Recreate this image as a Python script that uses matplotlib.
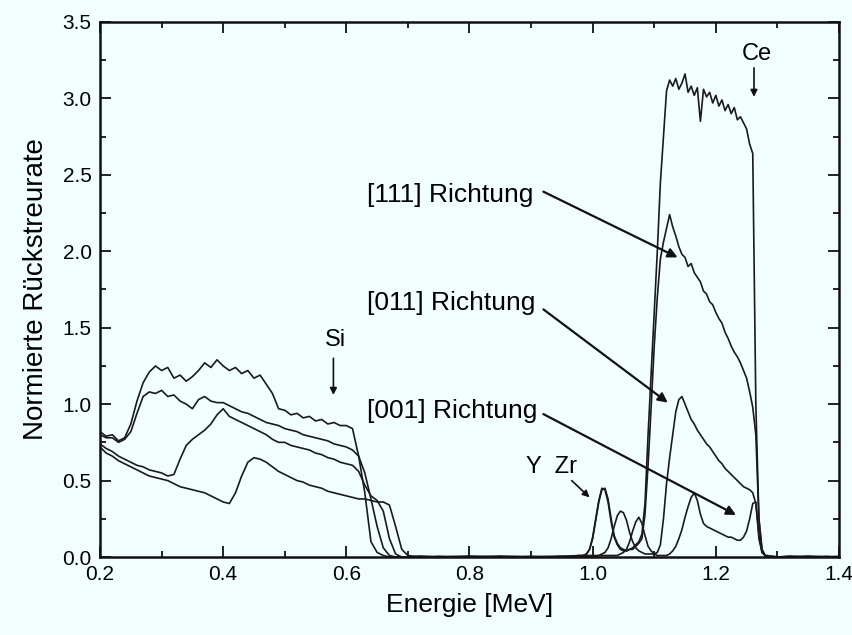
import matplotlib
matplotlib.use("Agg")
import matplotlib.pyplot as plt
import numpy as np
from matplotlib.ticker import MultipleLocator

plt.rcParams['font.family'] = ['Liberation Sans', 'DejaVu Sans']

# ---------------- data ----------------
e_low = [0.20, 0.21, 0.22, 0.23, 0.24, 0.25, 0.26, 0.27, 0.28, 0.29,
         0.30, 0.31, 0.32, 0.33, 0.34, 0.35, 0.36, 0.37, 0.38, 0.39,
         0.40, 0.41, 0.42, 0.43, 0.44, 0.45, 0.46, 0.47, 0.48, 0.49,
         0.50, 0.51, 0.52, 0.53, 0.54, 0.55, 0.56, 0.57, 0.58, 0.59,
         0.60, 0.61, 0.62, 0.63, 0.64, 0.65, 0.66, 0.67, 0.68, 0.69,
         0.70]
e_mid = [0.72, 0.75, 0.80, 0.85, 0.90, 0.95]
e_high = [0.980, 0.985, 0.990, 0.995, 1.000, 1.005, 1.010, 1.015, 1.020, 1.025,
          1.030, 1.035, 1.040, 1.045, 1.050, 1.055, 1.060, 1.065, 1.070, 1.075,
          1.080, 1.085, 1.090, 1.095, 1.100, 1.105, 1.110, 1.115, 1.120, 1.125,
          1.130, 1.135, 1.140, 1.145, 1.150, 1.155, 1.160, 1.165, 1.170, 1.175,
          1.180, 1.185, 1.190, 1.195, 1.200, 1.205, 1.210, 1.215, 1.220, 1.225,
          1.230, 1.235, 1.240, 1.245, 1.250, 1.255, 1.260, 1.265, 1.270, 1.275,
          1.280, 1.285, 1.290, 1.295, 1.300]
e_tail = [1.32, 1.35, 1.38, 1.40]

# random spectrum
random_low = [0.82, 0.79, 0.80, 0.76, 0.78, 0.87, 1.02, 1.14, 1.21, 1.25,
              1.22, 1.24, 1.17, 1.19, 1.15, 1.18, 1.22, 1.27, 1.24, 1.29,
              1.25, 1.22, 1.24, 1.20, 1.22, 1.17, 1.19, 1.13, 1.07, 0.97,
              0.96, 0.93, 0.94, 0.91, 0.92, 0.89, 0.90, 0.87, 0.88, 0.86,
              0.86, 0.84, 0.66, 0.42, 0.10, 0.03, 0.01, 0.0, 0.0, 0.0,
              0.0]
random_mid = [0.005, 0.0, 0.005, 0.0, 0.005, 0.0]
random_high = [0.01, 0.01, 0.02, 0.05, 0.12, 0.24, 0.36, 0.44, 0.45, 0.38,
               0.25, 0.14, 0.09, 0.06, 0.05, 0.04, 0.05, 0.06, 0.08, 0.10,
               0.15, 0.35, 0.80, 1.20, 1.60, 2.00, 2.45, 2.75, 3.05, 3.12,
               3.08, 3.13, 3.06, 3.10, 3.16, 3.04, 3.08, 3.02, 3.07, 2.85,
               3.06, 3.01, 3.04, 2.97, 3.02, 2.95, 2.99, 2.92, 2.96, 2.90,
               2.94, 2.86, 2.88, 2.84, 2.80, 2.70, 2.64, 1.00, 0.25, 0.05,
               0.01, 0.01, 0.0, 0.005, 0.0]
random_tail = [0.005, 0.0, 0.005, 0.0]

# [111] direction
d111_low = [0.80, 0.78, 0.78, 0.75, 0.77, 0.82, 0.94, 1.05, 1.08, 1.07,
            1.09, 1.05, 1.06, 1.02, 1.00, 0.97, 1.03, 1.05, 1.02, 1.01,
            1.01, 0.99, 0.97, 0.95, 0.94, 0.92, 0.90, 0.88, 0.87, 0.86,
            0.84, 0.83, 0.82, 0.80, 0.79, 0.78, 0.77, 0.76, 0.74, 0.73,
            0.72, 0.70, 0.66, 0.55, 0.38, 0.20, 0.06, 0.01, 0.0, 0.0,
            0.0]
d111_mid = [0.0, 0.005, 0.0, 0.005, 0.0, 0.005]
d111_high = [0.01, 0.01, 0.02, 0.05, 0.13, 0.25, 0.37, 0.45, 0.44, 0.36,
             0.23, 0.13, 0.08, 0.05, 0.04, 0.04, 0.05, 0.05, 0.07, 0.09,
             0.12, 0.28, 0.60, 0.98, 1.38, 1.70, 1.95, 2.06, 2.15, 2.24,
             2.16, 2.10, 2.03, 1.98, 1.96, 1.90, 1.92, 1.86, 1.83, 1.80,
             1.74, 1.72, 1.67, 1.65, 1.60, 1.56, 1.53, 1.47, 1.43, 1.38,
             1.34, 1.31, 1.27, 1.22, 1.17, 1.08, 0.98, 0.80, 0.25, 0.05,
             0.01, 0.0, 0.005, 0.0, 0.0]
d111_tail = [0.0, 0.005, 0.0, 0.0]

# [011] direction
d011_low = [0.74, 0.71, 0.69, 0.66, 0.64, 0.62, 0.60, 0.59, 0.57, 0.56,
            0.55, 0.53, 0.54, 0.64, 0.73, 0.77, 0.80, 0.83, 0.87, 0.93,
            0.97, 0.92, 0.90, 0.88, 0.86, 0.84, 0.82, 0.80, 0.77, 0.75,
            0.75, 0.73, 0.72, 0.71, 0.70, 0.68, 0.67, 0.65, 0.64, 0.62,
            0.61, 0.60, 0.56, 0.47, 0.40, 0.37, 0.30, 0.12, 0.02, 0.0,
            0.0]
d011_mid = [0.005, 0.0, 0.0, 0.005, 0.0, 0.0]
d011_high = [0.0, 0.01, 0.01, 0.01, 0.01, 0.01, 0.01, 0.02, 0.03, 0.06,
             0.12, 0.20, 0.27, 0.30, 0.29, 0.24, 0.16, 0.10, 0.06, 0.04,
             0.03, 0.02, 0.02, 0.02, 0.02, 0.03, 0.08, 0.25, 0.48, 0.65,
             0.80, 0.95, 1.03, 1.05, 1.00, 0.95, 0.90, 0.87, 0.83, 0.80,
             0.77, 0.74, 0.72, 0.69, 0.66, 0.63, 0.61, 0.58, 0.56, 0.54,
             0.52, 0.50, 0.48, 0.46, 0.45, 0.44, 0.42, 0.35, 0.15, 0.03,
             0.01, 0.0, 0.005, 0.0, 0.0]
d011_tail = [0.005, 0.0, 0.0, 0.005]

# [001] direction
d001_low = [0.72, 0.68, 0.66, 0.63, 0.61, 0.59, 0.57, 0.55, 0.53, 0.52,
            0.51, 0.50, 0.48, 0.46, 0.45, 0.44, 0.43, 0.42, 0.40, 0.38,
            0.36, 0.35, 0.42, 0.53, 0.62, 0.65, 0.64, 0.62, 0.59, 0.56,
            0.54, 0.52, 0.50, 0.49, 0.47, 0.46, 0.45, 0.43, 0.42, 0.41,
            0.40, 0.39, 0.38, 0.38, 0.37, 0.36, 0.36, 0.34, 0.20, 0.05,
            0.01]
d001_mid = [0.0, 0.0, 0.005, 0.0, 0.0, 0.005]
d001_high = [0.0, 0.0, 0.005, 0.0, 0.005, 0.0, 0.01, 0.01, 0.01, 0.01,
             0.01, 0.01, 0.01, 0.02, 0.03, 0.05, 0.10, 0.17, 0.23, 0.26,
             0.22, 0.14, 0.07, 0.04, 0.02, 0.01, 0.01, 0.01, 0.01, 0.02,
             0.04, 0.07, 0.12, 0.18, 0.26, 0.33, 0.39, 0.42, 0.37, 0.28,
             0.22, 0.20, 0.19, 0.18, 0.17, 0.16, 0.15, 0.14, 0.13, 0.13,
             0.12, 0.11, 0.11, 0.13, 0.17, 0.25, 0.35, 0.36, 0.12, 0.03,
             0.01, 0.0, 0.005, 0.0, 0.0]
d001_tail = [0.0, 0.005, 0.0, 0.0]

x_ticks = [0.2, 0.4, 0.6, 0.8, 1.0, 1.2, 1.4]
y_ticks = [0.0, 0.5, 1.0, 1.5, 2.0, 2.5, 3.0, 3.5]

# ---------------- figure ----------------
bg = '#f2fefe'
fig = plt.figure(figsize=(8.52, 6.35), dpi=100, facecolor=bg)
ax = fig.add_axes([0.1174, 0.1228, 0.8673, 0.8426], facecolor=bg)

energy = e_low + e_mid + e_high + e_tail
series = [
    random_low + random_mid + random_high + random_tail,
    d111_low + d111_mid + d111_high + d111_tail,
    d011_low + d011_mid + d011_high + d011_tail,
    d001_low + d001_mid + d001_high + d001_tail,
]
for s in series:
    ax.plot(energy, s, color='#1a1a1a', lw=1.2)

ax.set_xlim(0.2, 1.4)
ax.set_ylim(0.0, 3.5)
ax.set_xticks(x_ticks)
ax.set_yticks(y_ticks)
ax.set_xticklabels([f"{v:.1f}" for v in x_ticks])
ax.set_yticklabels([f"{v:.1f}" for v in y_ticks])
ax.xaxis.set_minor_locator(MultipleLocator(0.1))
ax.yaxis.set_minor_locator(MultipleLocator(0.25))
ax.tick_params(which='both', direction='in', top=True, right=True,
               labelsize=15, width=1.3, color='#111111')
ax.tick_params(which='major', length=8, pad=6)
ax.tick_params(which='minor', length=4)
for sp in ax.spines.values():
    sp.set_linewidth(1.8)
    sp.set_color('#111111')

ax.set_xlabel('Energie [MeV]', fontsize=19, labelpad=6)
ax.set_ylabel('Normierte Rückstreurate', fontsize=20, labelpad=10)

arrow_kw = dict(arrowstyle='-|>', color='#111111', lw=1.6,
                mutation_scale=14, shrinkA=0, shrinkB=0)
small_kw = dict(arrowstyle='-|>', color='#111111', lw=1.2,
                mutation_scale=10, shrinkA=0, shrinkB=0)

# element labels
ax.text(0.582, 1.42, 'Si', fontsize=17, ha='center', va='center')
ax.annotate('', xy=(0.579, 1.06), xytext=(0.579, 1.30), arrowprops=small_kw)
ax.text(1.266, 3.29, 'Ce', fontsize=17, ha='center', va='center')
ax.annotate('', xy=(1.262, 3.01), xytext=(1.262, 3.20), arrowprops=small_kw)
ax.text(0.975, 0.59, 'Y  Zr', fontsize=17, ha='right', va='center')
ax.annotate('', xy=(0.995, 0.39), xytext=(0.966, 0.50), arrowprops=small_kw)

# direction labels with arrows
ax.text(0.634, 2.37, '[111] Richtung', fontsize=19, ha='left', va='center')
ax.annotate('', xy=(1.138, 1.96), xytext=(0.92, 2.39), arrowprops=arrow_kw)
ax.text(0.634, 1.66, '[011] Richtung', fontsize=19, ha='left', va='center')
ax.annotate('', xy=(1.122, 1.01), xytext=(0.92, 1.62), arrowprops=arrow_kw)
ax.text(0.634, 0.955, '[001] Richtung', fontsize=19, ha='left', va='center')
ax.annotate('', xy=(1.233, 0.275), xytext=(0.92, 0.935), arrowprops=arrow_kw)

fig.savefig('out.png', dpi=100, facecolor=bg)
